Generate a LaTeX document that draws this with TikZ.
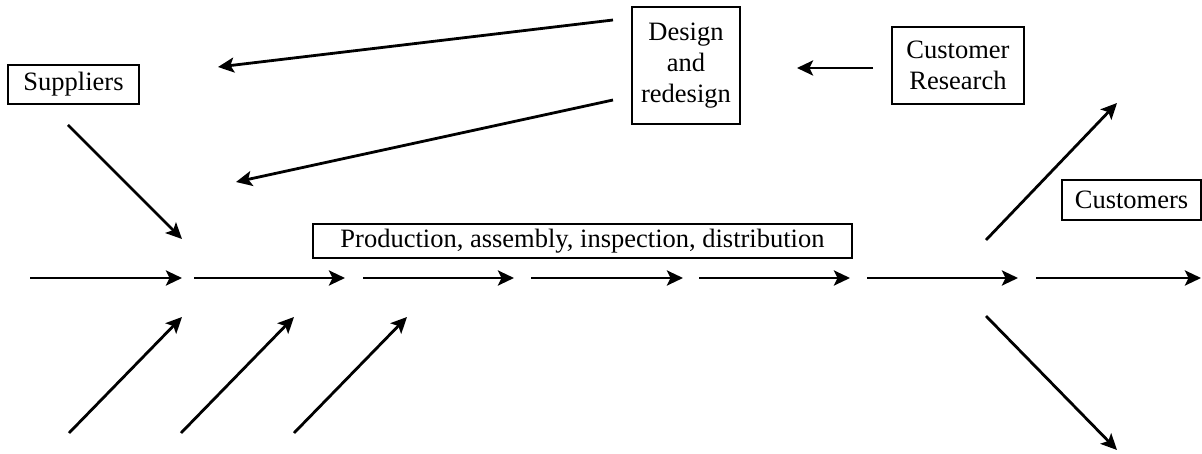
\documentclass[tikz,border=0pt]{standalone}
\usepackage{fontspec}
\setmainfont{Liberation Serif}
\usetikzlibrary{arrows.meta}
\begin{document}
\begin{tikzpicture}[x=1pt,y=-1pt,
  box/.style={draw, line width=1.3pt, inner sep=0pt, align=center,
    font=\fontsize{26.5}{31}\selectfont},
  arr/.style={line width=2.8pt, -{Stealth[length=16pt,width=15pt,inset=3.5pt]}}]
\useasboundingbox (0,0) rectangle (1202,454);
% boxes
\node[box, minimum width=131pt, minimum height=39pt] (sup) at (73.5,84.5) {Suppliers};
\node[box, minimum width=108pt, minimum height=117pt] (des) at (686,65.5) {Design\\and\\redesign};
\node[box, minimum width=132pt, minimum height=77pt] (cr) at (958,65.5) {Customer\\Research};
\node[box, minimum width=139pt, minimum height=40pt] (cus) at (1131.5,200) {Customers};
\node[box, minimum width=539pt, minimum height=34pt] (prod) at (582.5,241) {Production, assembly, inspection, distribution};
% main line coordinates
\foreach \n/\a/\b in {1/30/182, 2/194/345, 3/363/514, 4/531/683, 5/699/850, 6/867/1018, 7/1036/1201}{
  \coordinate (m\n s) at (\a,278);
  \coordinate (m\n e) at (\b,278);
  \draw[arr] (m\n s) -- (m\n e);
}
% design arrows
\coordinate (d1s) at (613,20);
\coordinate (d1e) at (218,67);
\coordinate (d2s) at (613,100);
\coordinate (d2e) at (236,182);
\draw[arr] (d1s) -- (d1e);
\draw[arr] (d2s) -- (d2e);
% customer research arrow
\coordinate (c1s) at (873,68);
\coordinate (c1e) at (797,68);
\draw[arr] (c1s) -- (c1e);
% suppliers arrow
\coordinate (s1s) at (68,125);
\coordinate (s1e) at (182,239);
\draw[arr] (s1s) -- (s1e);
% lower left arrows
\foreach \n/\a in {1/69, 2/181, 3/294}{
  \coordinate (l\n s) at (\a,433);
  \coordinate (l\n e) at (\a+113,317);
  \draw[arr] (l\n s) -- (l\n e);
}
% right arrows
\coordinate (r1s) at (986,240);
\coordinate (r1e) at (1117,103);
\coordinate (r2s) at (986,316);
\coordinate (r2e) at (1117,450);
\draw[arr] (r1s) -- (r1e);
\draw[arr] (r2s) -- (r2e);
\end{tikzpicture}
\end{document}
